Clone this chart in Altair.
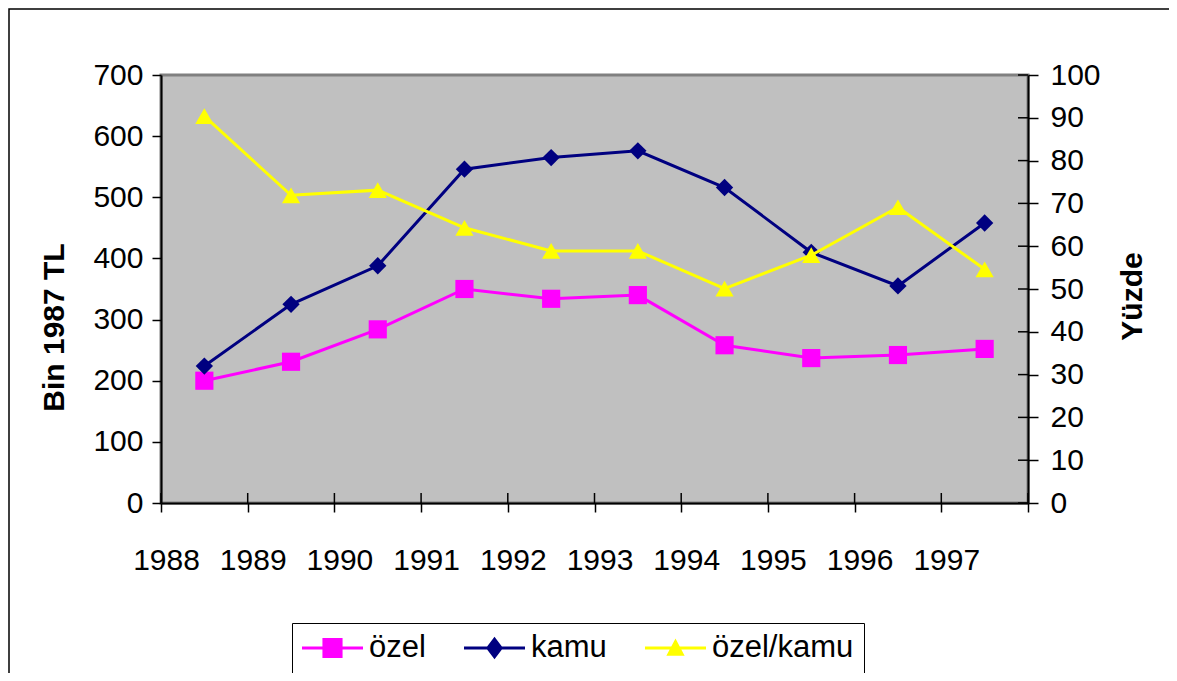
import altair as alt
import pandas as pd

# ---- data ----
yillar = [1988, 1989, 1990, 1991, 1992, 1993, 1994, 1995, 1996, 1997]
ozel = [200, 231, 284, 350, 334, 340, 258, 237, 242, 252]
kamu = [224, 325, 388, 546, 565, 576, 516, 410, 355, 458]
ozel_kamu = [90.4, 71.9, 73.1, 64.3, 58.9, 58.9, 50.1, 57.9, 69.1, 54.6]

seriler = ["özel", "kamu", "özel/kamu"]
renkler = ["#FF00FF", "#000080", "#FFFF00"]
# legend glyphs: line segment with the marker in the middle
lejant_sekil = [
    "M-1,-0.05H1V0.05H-1Z M-0.33,-0.33H0.33V0.33H-0.33Z",
    "M-1,-0.05H1V0.05H-1Z M0,-0.37L0.28,0L0,0.37L-0.28,0Z",
    "M-1,-0.05H1V0.05H-1Z M0,-0.31L0.3,0.25L-0.3,0.25Z",
]

x_tick = list(range(1988, 1999))
sol_tick = list(range(0, 701, 100))
sag_tick = list(range(0, 101, 10))

rows = []
for i, y in enumerate(yillar):
    rows.append({"yil": y, "seri": "özel", "deger": ozel[i]})
    rows.append({"yil": y, "seri": "kamu", "deger": kamu[i]})
    rows.append({"yil": y, "seri": "özel/kamu", "deger": ozel_kamu[i]})
df = pd.DataFrame(rows)

W, H = 867, 428
FONT = "Liberation Sans"
FS = 30
NBSP = "\u00a0"

x_scale = alt.Scale(domain=[1988, 1998], nice=False, zero=False)
x_axis = alt.Axis(values=x_tick, format="d", labelExpr="datum.value < 1998 ? datum.label : ''",
                  title=None, tickSize=9, labelPadding=33, labelOffset=5, grid=False,
                  labelOverlap=False, labelFlush=False)
x_enc = alt.X("xpos:Q", scale=x_scale, axis=x_axis)

sol_axis = alt.Axis(values=sol_tick, orient="left", title="Bin 1987 TL", titleX=-107, titleY=252,
                    titleAngle=270, titleBaseline="middle", titleAlign="center",
                    tickSize=9, labelPadding=9, grid=False, labelOverlap=False, labelFlush=False)
sag_axis = alt.Axis(values=sag_tick, orient="right", title="Yüzde", titleX=104, titleY=221,
                    titleAngle=270, titleBaseline="middle", titleAlign="center",
                    tickSize=10, labelPadding=12, grid=False, labelOverlap=False, labelFlush=False)
sol_y = alt.Y("deger:Q", scale=alt.Scale(domain=[0, 700], nice=False), axis=sol_axis)
sag_y = alt.Y("deger:Q", scale=alt.Scale(domain=[0, 100], nice=False), axis=sag_axis)

lejant = alt.Legend(
    orient="none", legendX=131, legendY=548, direction="horizontal", columns=3, title=None,
    labelFontSize=31, labelFont=FONT, labelColor="black", symbolSize=3721, labelOffset=6,
    columnPadding=38, padding=10, strokeColor="black", fillColor="white", clipHeight=30,
    symbolOpacity=1, symbolStrokeWidth=0, labelLimit=400,
    labelExpr="datum.label === 'özel/kamu' ? datum.label + '" + NBSP * 3 + "' : datum.label",
)
renk_scale = alt.Scale(domain=seriler, range=renkler)
color_enc = alt.Color("seri:N", scale=renk_scale, legend=lejant)

base = alt.Chart(df).transform_calculate(xpos="datum.yil + 0.5")


def seri_base(ad):
    return base.transform_filter(alt.datum.seri == ad)


sol_line = base.transform_filter("datum.seri !== 'özel/kamu'").mark_line(strokeWidth=3).encode(
    x=x_enc, y=sol_y, color=color_enc)
pts_ozel = seri_base("özel").mark_point(shape="square", filled=True, opacity=1, size=330).encode(
    x=x_enc, y=sol_y, color=color_enc)
pts_kamu = seri_base("kamu").mark_point(shape="diamond", filled=True, opacity=1, size=300).encode(
    x=x_enc, y=sol_y, color=color_enc)
x_ic = alt.Chart(pd.DataFrame({"xpos": x_tick})).mark_rule(color="black", strokeWidth=1.5).encode(
    x=x_enc, y=alt.value(H - 10), y2=alt.value(H))

sag_line = seri_base("özel/kamu").mark_line(strokeWidth=3).encode(x=x_enc, y=sag_y, color=color_enc)
pts_oran = seri_base("özel/kamu").mark_point(shape="triangle-up", filled=True, opacity=1, size=330).encode(
    x=x_enc, y=sag_y, color=color_enc)
y_ic = alt.Chart(pd.DataFrame({"deger": sag_tick})).mark_rule(color="black", strokeWidth=1.5).encode(
    y=sag_y, x=alt.value(W - 10), x2=alt.value(W))

# outer chart frame (only its top and left edges fall inside the page)
cerceve = alt.Chart(pd.DataFrame({"a": [0]})).mark_rect(
    fillOpacity=0, stroke="black", strokeWidth=1.5
).encode(x=alt.value(-152), x2=alt.value(W + 300), y=alt.value(-66), y2=alt.value(H + 300))

# legend carrier (invisible marks, only feeds the legend)
lej = base.mark_point(filled=True, opacity=0).encode(
    x=x_enc,
    y=alt.Y("deger:Q", scale=alt.Scale(domain=[0, 700], nice=False), axis=None),
    color=color_enc,
    shape=alt.Shape("seri:N", scale=alt.Scale(domain=seriler, range=lejant_sekil), legend=lejant),
)

sol = alt.layer(sol_line, pts_ozel, pts_kamu, x_ic)
sag = alt.layer(sag_line, pts_oran, y_ic)

chart = alt.layer(lej, cerceve, sol, sag).resolve_scale(y="independent").properties(
    width=W, height=H,
    padding={"left": 153, "top": 67, "right": 141, "bottom": 170},
    autosize=alt.AutoSizeParams(type="none"),
    background="white",
).configure_view(
    fill="#C0C0C0", stroke="#808080", strokeWidth=3
).configure_axis(
    labelFont=FONT, labelFontSize=FS, labelColor="black",
    titleFont=FONT, titleFontSize=FS, titleFontWeight="bold", titleColor="black",
    domainColor="black", domainWidth=2, tickColor="black", tickWidth=1.5,
)

chart.save("out.html", embed_options={"renderer": "svg", "actions": False})
